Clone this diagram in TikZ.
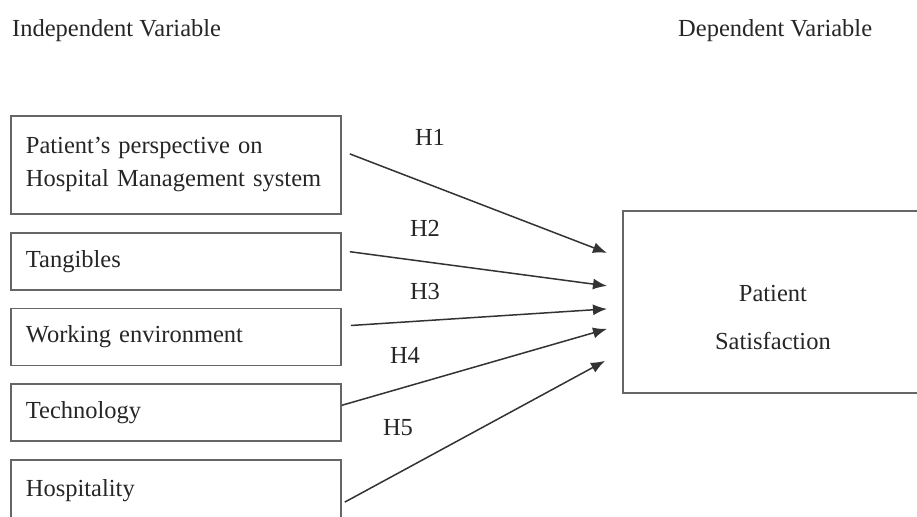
\documentclass[tikz,border=0pt]{standalone}
\usepackage{fontspec}
\setmainfont{Liberation Serif}
\usepackage{tikz}
\usetikzlibrary{arrows.meta, calc, positioning}

\begin{document}
\begin{tikzpicture}[
    x=1pt, y=-1pt,
    node distance=17pt,
    font=\fontsize{24.5}{33}\selectfont,
    text=black!85,
    indep/.style={rectangle, draw=black!60, line width=1.8pt, minimum width=330pt, minimum height=57pt, inner xsep=15pt, text width=300pt, align=left},
    dep/.style={rectangle, draw=black!60, line width=1.8pt, minimum width=300pt, minimum height=182pt, align=center, font=\fontsize{24.5}{48}\selectfont},
    title/.style={inner sep=0pt, anchor=base west},
    hyp/.style={inner sep=0pt},
    line/.style={draw=black!80, line width=1.5pt, -{Latex[length=14pt, width=11pt]}}
]
    \useasboundingbox[fill=white] (0,0) rectangle (917,516);

    % Titles
    \node [title] (ivar) at (12,37) {Independent Variable};
    \node [title] (dvar) at (678,37) {Dependent Variable};

    % Independent variables on the left
    \node [indep, anchor=north west, minimum height=98pt] (pp) at (10,115) {Patient’s perspective on\\Hospital Management system};
    \node [indep, below=of pp] (tang) {Tangibles};
    \node [indep, below=of tang] (work) {Working environment};
    \node [indep, below=of work] (tech) {Technology};
    \node [indep, below=of tech, minimum height=62pt] (hosp) {Hospitality};

    % Dependent variable on the right (empty first line pushes text down)
    \node [dep, anchor=north west] (ps) at (622,210) {{}\\Patient\\Satisfaction};

    % Arrow heads stop short of the box
    \coordinate (e1) at ($(ps.west)+(-15,-49)$);
    \coordinate (e2) at ($(ps.west)+(-15,-16)$);
    \coordinate (e3) at ($(ps.west)+(-15,7)$);
    \coordinate (e4) at ($(ps.west)+(-15,27)$);
    \coordinate (e5) at ($(ps.west)+(-17,59)$);

    % Connections
    \draw [line] ($(pp.east)+(8,-11)$) -- (e1);
    \draw [line] ($(tang.east)+(8,-9.5)$) -- (e2);
    \draw [line] ($(work.east)+(9,-11.5)$) -- (e3);
    \draw [line] ($(tech.east)+(0,-7.5)$) -- (e4);
    \draw [line] ($(hosp.east)+(3,11)$) -- (e5);

    % Hypotheses
    \node [hyp] (h1) at (430,137) {H1};
    \node [hyp] (h2) at (425,228) {H2};
    \node [hyp] (h3) at (425,292) {H3};
    \node [hyp] (h4) at (405,355) {H4};
    \node [hyp] (h5) at (398,428) {H5};

\end{tikzpicture}
\end{document}
